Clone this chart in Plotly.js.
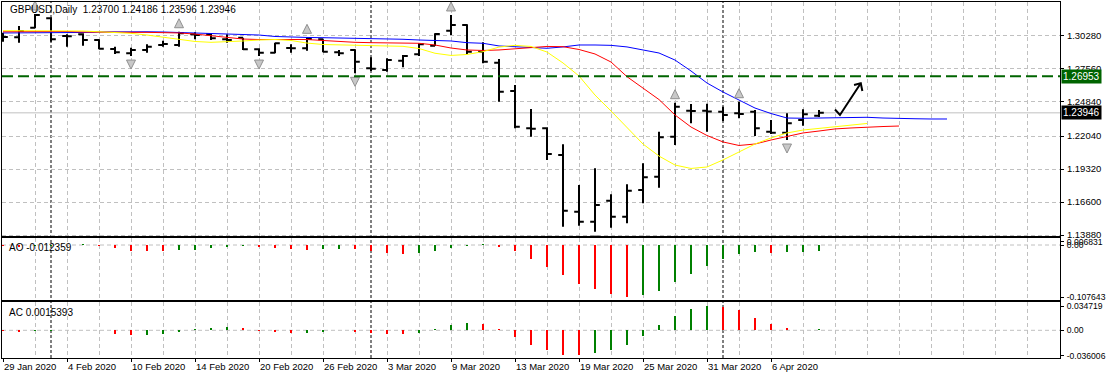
<!DOCTYPE html>
<html><head><meta charset="utf-8">
<script src="https://cdn.plot.ly/plotly-3.0.1.min.js"></script>
<style>html,body{margin:0;padding:0;background:#fff}#chart{width:1107px;height:379px}</style>
</head><body><div id="chart"></div>
<script>
// ---------- DATA ----------
const symbolName = 'GBPUSD,Daily';
const dates = ['2020-01-29','2020-01-30','2020-01-31','2020-02-03','2020-02-04','2020-02-05','2020-02-06','2020-02-07',
 '2020-02-10','2020-02-11','2020-02-12','2020-02-13','2020-02-14','2020-02-17','2020-02-18','2020-02-19','2020-02-20','2020-02-21',
 '2020-02-24','2020-02-25','2020-02-26','2020-02-27','2020-02-28','2020-03-02','2020-03-03','2020-03-04','2020-03-05','2020-03-06',
 '2020-03-09','2020-03-10','2020-03-11','2020-03-12','2020-03-13','2020-03-16','2020-03-17','2020-03-18','2020-03-19','2020-03-20',
 '2020-03-23','2020-03-24','2020-03-25','2020-03-26','2020-03-27','2020-03-30','2020-03-31','2020-04-01','2020-04-02','2020-04-03',
 '2020-04-06','2020-04-07','2020-04-08','2020-04-09'];
const xTickLabels = ['29 Jan 2020','4 Feb 2020','10 Feb 2020','14 Feb 2020','20 Feb 2020','26 Feb 2020','3 Mar 2020',
 '9 Mar 2020','13 Mar 2020','19 Mar 2020','25 Mar 2020','31 Mar 2020','6 Apr 2020'];

const openP  = [1.3013,1.3016,1.3095,1.3173,1.3027,1.3041,1.2994,1.2920,1.2885,1.2912,1.2953,1.2953,1.3041,1.3041,1.3000,1.3013,1.2918,1.2890,
 1.2928,1.2926,1.3000,1.2893,1.2912,1.2761,1.2747,1.2824,1.2876,1.2947,1.3071,1.3118,1.2898,1.2807,1.2574,1.2267,1.2267,1.2048,
 1.1581,1.1499,1.1672,1.1540,1.1760,1.1869,1.2198,1.2412,1.2412,1.2404,1.2391,1.2404,1.2239,1.2231,1.2336,1.23700];
const highP  = [1.3054,1.3109,1.3208,1.3181,1.3041,1.3049,1.3000,1.2939,1.2931,1.2959,1.2988,1.3062,1.3057,1.3049,1.3041,1.3013,1.2926,1.2972,
 1.2959,1.3016,1.3000,1.2912,1.2918,1.2852,1.2844,1.2871,1.2967,1.3049,1.3200,1.3123,1.2975,1.2838,1.2624,1.2426,1.2276,1.2136,
 1.1801,1.1938,1.1724,1.1807,1.1979,1.2239,1.2478,1.2468,1.2470,1.2445,1.2486,1.2418,1.2336,1.2391,1.2424,1.24186];
const lowP   = [1.2980,1.2972,1.3090,1.2980,1.2939,1.2947,1.2918,1.2879,1.2862,1.2890,1.2939,1.2939,1.3000,1.2994,1.2972,1.2912,1.2862,1.2885,
 1.2890,1.2906,1.2893,1.2862,1.2720,1.2739,1.2733,1.2769,1.2862,1.2945,1.3035,1.2879,1.2802,1.2486,1.2267,1.2198,1.2007,1.1458,
 1.1466,1.1416,1.1449,1.1485,1.1650,1.1778,1.2130,1.2308,1.2239,1.2327,1.2350,1.2204,1.2220,1.2171,1.2289,1.23596];
const closeP = [1.3019,1.3068,1.3200,1.3000,1.3024,1.2994,1.2922,1.2893,1.2912,1.2939,1.2961,1.3049,1.3035,1.3008,1.2994,1.2918,1.2890,1.2967,
 1.2926,1.3002,1.2898,1.2885,1.2815,1.2758,1.2829,1.2862,1.2959,1.3043,1.3118,1.2898,1.2815,1.2569,1.2281,1.2264,1.2056,1.1589,
 1.1499,1.1636,1.1540,1.1754,1.1864,1.2193,1.2445,1.2409,1.2406,1.2377,1.2385,1.2267,1.2231,1.2308,1.2383,1.23946];

// Alligator lines (already shifted forward)
const jawBlue = [1.3052,1.3052,1.3052,1.3052,1.3054,1.3056,1.3060,1.3062,1.3062,1.3062,1.3060,1.3056,1.3052,1.3049,1.3043,1.3039,1.3035,1.3023,
 1.3016,1.3015,1.3013,1.3011,1.3008,1.3008,1.3005,1.3000,1.2994,1.2990,1.2986,1.2972,1.2967,1.2945,1.2937,1.2928,1.2926,1.2937,
 1.2953,1.2953,1.2950,1.2937,1.2912,1.2887,1.2829,1.2739,1.2640,1.2566,1.2500,1.2434,1.2389,1.2352,1.2350,1.2352,1.2356,1.2358,
 1.2358,1.2352,1.2346,1.2346,1.2344,1.2344];
const teethRed = [1.3062,1.3062,1.3066,1.3068,1.3064,1.3060,1.3057,1.3057,1.3057,1.3057,1.3056,1.3052,1.3043,1.3031,1.3016,1.3002,1.2998,1.3000,
 1.3000,1.2998,1.2990,1.2980,1.2975,1.2972,1.2969,1.2967,1.2967,1.2953,1.2928,1.2912,1.2908,1.2912,1.2922,1.2936,1.2941,1.2939,
 1.2916,1.2879,1.2813,1.2692,1.2597,1.2504,1.2377,1.2278,1.2208,1.2155,1.2126,1.2138,1.2171,1.2200,1.2229,1.2245,1.2262,1.2270,
 1.2278,1.2282,1.2286];
const lipsYellow = [1.3071,1.3071,1.3071,1.3071,1.3071,1.3068,1.3062,1.3056,1.3049,1.3035,1.3019,1.2998,1.2982,1.2975,1.2978,1.2986,1.2994,1.2998,
 1.2990,1.2969,1.2957,1.2953,1.2953,1.2950,1.2947,1.2942,1.2924,1.2885,1.2867,1.2875,1.2898,1.2936,1.2950,1.2941,1.2895,1.2805,
 1.2698,1.2541,1.2410,1.2270,1.2138,1.2039,1.1965,1.1937,1.1949,1.2007,1.2072,1.2138,1.2188,1.2229,1.2253,1.2266,1.2278,1.2290,1.2307];

const aoValues = [-0.0028,-0.0035,-0.0030,-0.0020,0.0010,0.0014,-0.0028,-0.0070,-0.0115,-0.0120,-0.0133,-0.0113,-0.0099,-0.0071,-0.0049,-0.0028,
 -0.0049,-0.0071,-0.0092,-0.0095,-0.0090,-0.0088,-0.0092,-0.0127,-0.0155,-0.0176,-0.0170,-0.0134,-0.0071,-0.0010,0.0030,-0.0035,
 -0.0134,-0.0282,-0.0445,-0.0619,-0.0801,-0.0901,-0.1023,-0.107643,-0.1043,-0.0942,-0.0774,-0.0599,-0.0437,-0.0296,-0.0195,-0.0148,
 -0.0168,-0.0150,-0.0140,-0.012359];
const acValues = [-0.0012,-0.0019,-0.0015,-0.0003,0.0008,0.0010,0.0002,-0.0048,-0.0065,-0.0060,-0.0052,-0.0019,0.0014,0.0040,0.0044,0.0034,
 -0.0010,-0.0024,-0.0038,-0.0034,-0.0019,0.0005,-0.0019,-0.0038,-0.0048,-0.0050,-0.0034,0.0014,0.0072,0.0106,0.0092,0.0014,
 -0.0092,-0.0207,-0.0280,-0.0352,-0.036006,-0.0318,-0.0280,-0.0207,-0.0077,0.0072,0.0202,0.0308,0.034719,0.0337,0.0294,0.0178,
 0.0092,0.0030,0.0010,0.0015393];

const fractalUpIdx = [2, 11, 19, 28, 42, 46];
const fractalDownIdx = [8, 16, 22, 37, 49];

const priceTicks = [1.30280, 1.27560, 1.24840, 1.22040, 1.19320, 1.16600, 1.13880];
const aoTicks = [0.006831, 0, -0.107643];
const aoTickText = ['0.006831', '0.00', '-0.107643'];
const acTicks = [0.034719, 0, -0.036006];
const acTickText = ['0.034719', '0.00', '-0.036006'];

const levelPrice = 1.26953;
const bidPrice = 1.23946;

// hand-drawn check arrow object (bar index, price)
const checkArrowX = [52.0, 52.31, 53.61];
const checkArrowY = [1.2422, 1.2377, 1.2638];
const checkHeadX = [53.19, 53.61, 53.71];
const checkHeadY = [1.2624, 1.2638, 1.2574];

// ---------- DRAW ----------
const FONT = '"Liberation Sans", Arial, sans-serif';
const GRID = '#c0c0c0';
const GDASH = '4px,3px';
const FRACTAL_GAP = 0.0107;
const idx = a => a.map((_, i) => i);
const barX = idx(openP);

const colorsFrom = vals => vals.map((v, i) => (i > 0 && v > vals[i - 1]) ? '#008000' : '#ff0000');

const traces = [
  {type:'ohlc', x:barX, open:openP, high:highP, low:lowP, close:closeP, xaxis:'x', yaxis:'y',
   increasing:{line:{color:'#000000', width:2}}, decreasing:{line:{color:'#000000', width:2}},
   tickwidth:0.3, hoverinfo:'skip'},
  {type:'scatter', mode:'lines', x:idx(jawBlue), y:jawBlue, line:{color:'#0000ff', width:1}, xaxis:'x', yaxis:'y', hoverinfo:'skip'},
  {type:'scatter', mode:'lines', x:idx(teethRed), y:teethRed, line:{color:'#ff0000', width:1}, xaxis:'x', yaxis:'y', hoverinfo:'skip'},
  {type:'scatter', mode:'lines', x:idx(lipsYellow), y:lipsYellow, line:{color:'#ffff00', width:1}, xaxis:'x', yaxis:'y', hoverinfo:'skip'},
  {type:'scatter', mode:'markers', x:fractalUpIdx, y:fractalUpIdx.map(i => highP[i] + FRACTAL_GAP),
   marker:{symbol:'arrow-up', size:9, color:'#c8c8c8', line:{color:'#909090', width:1}}, xaxis:'x', yaxis:'y', hoverinfo:'skip'},
  {type:'scatter', mode:'markers', x:fractalDownIdx, y:fractalDownIdx.map(i => lowP[i] - FRACTAL_GAP),
   marker:{symbol:'arrow-down', size:9, color:'#c8c8c8', line:{color:'#909090', width:1}}, xaxis:'x', yaxis:'y', hoverinfo:'skip'},
  {type:'scatter', mode:'lines', x:checkArrowX, y:checkArrowY, line:{color:'#000000', width:2}, xaxis:'x', yaxis:'y', hoverinfo:'skip'},
  {type:'scatter', mode:'lines', x:checkHeadX, y:checkHeadY, line:{color:'#000000', width:2}, xaxis:'x', yaxis:'y', hoverinfo:'skip'},
  {type:'bar', x:idx(aoValues), y:aoValues, width:0.14, marker:{color:colorsFrom(aoValues), line:{width:0}}, xaxis:'x2', yaxis:'y2', hoverinfo:'skip'},
  {type:'bar', x:idx(acValues), y:acValues, width:0.14, marker:{color:colorsFrom(acValues), line:{width:0}}, xaxis:'x3', yaxis:'y3', hoverinfo:'skip'}
];

// month separators
const sepIdx = dates.map((d, i) => (i > 0 && d.slice(5, 7) !== dates[i - 1].slice(5, 7)) ? i : -1).filter(i => i >= 0);
const labelVals = xTickLabels.map((_, k) => k * 4);

const xBase = {
  range:[-0.0625, 66.0625], showline:true, mirror:true, linecolor:'#000', linewidth:1, zeroline:false,
  tickmode:'array', tickvals:labelVals, ticktext:xTickLabels, tickangle:0,
  showgrid:true, gridcolor:GRID, griddash:GDASH, gridwidth:1,
  minor:{tickmode:'linear', tick0:0, dtick:2, showgrid:true, gridcolor:GRID, griddash:GDASH, gridwidth:1, ticks:''},
  rangeslider:{visible:false}, fixedrange:true
};

const yBase = {side:'right', showline:true, mirror:true, linecolor:'#000', linewidth:1, zeroline:false,
  ticks:'outside', ticklen:3, tickcolor:'#000', ticklabelstandoff:1, tickfont:{family:FONT, size:9.5, color:'#000'}, fixedrange:true};

const priceLo = 1.13769, priceHi = 1.33068;

const shapes = [];
sepIdx.forEach(i => shapes.push({type:'line', xref:'x', yref:'paper', x0:i, x1:i, y0:0, y1:1,
  line:{color:'#000', width:1, dash:'3px,2px'}, layer:'between'}));
shapes.push({type:'line', xref:'paper', yref:'y2', x0:0, x1:1, y0:0, y1:0, line:{color:GRID, width:1, dash:GDASH}, layer:'between'});
shapes.push({type:'line', xref:'paper', yref:'y3', x0:0, x1:1, y0:0, y1:0, line:{color:GRID, width:1, dash:GDASH}, layer:'between'});
shapes.push({type:'line', xref:'paper', yref:'y', x0:0, x1:1, y0:bidPrice, y1:bidPrice, line:{color:'#c0c0c0', width:1}, layer:'between'});
shapes.push({type:'line', xref:'paper', yref:'y', x0:0, x1:1, y0:levelPrice, y1:levelPrice, line:{color:'#006400', width:2, dash:'11px,5px'}, layer:'above'});

const last = openP.length - 1;
const header = symbolName + '\u00a0\u00a0' + [openP[last], highP[last], lowP[last], closeP[last]].map(v => v.toFixed(5)).join(' ');

const annotations = [
  {xref:'paper', yref:'paper', x:0.0055, y:0.9785, xanchor:'left', yanchor:'middle', showarrow:false,
   text:header, font:{family:FONT, size:10, color:'#000'}},
  {xref:'paper', yref:'paper', x:0.0045, y:0.309, xanchor:'left', yanchor:'middle', showarrow:false,
   text:'AO ' + aoValues[last].toFixed(6), font:{family:FONT, size:10, color:'#000'}},
  {xref:'paper', yref:'paper', x:0.0045, y:0.129, xanchor:'left', yanchor:'middle', showarrow:false,
   text:'AC ' + acValues[last].toFixed(7), font:{family:FONT, size:10, color:'#000'}},
  {xref:'paper', yref:'y', x:1, y:levelPrice, xanchor:'left', yanchor:'middle', xshift:1, showarrow:false,
   text:levelPrice.toFixed(5), bgcolor:'#006400', borderpad:1, font:{family:FONT, size:10, color:'#ffffff'}},
  {xref:'paper', yref:'y', x:1, y:bidPrice, xanchor:'left', yanchor:'middle', xshift:1, showarrow:false,
   text:bidPrice.toFixed(5), bgcolor:'#000000', borderpad:1, font:{family:FONT, size:10, color:'#ffffff'}}
];

const layout = {
  width:1107, height:379,
  margin:{l:2, r:47, t:2, b:21, pad:0},
  paper_bgcolor:'#ffffff', plot_bgcolor:'#ffffff',
  showlegend:false, hovermode:false, dragmode:false, bargap:0,
  xaxis:Object.assign({}, xBase, {anchor:'y', showticklabels:false, ticks:''}),
  xaxis2:Object.assign({}, xBase, {anchor:'y2', matches:'x', showticklabels:false, ticks:''}),
  xaxis3:Object.assign({}, xBase, {anchor:'y3', matches:'x', showticklabels:true, ticks:'outside', ticklen:3, tickcolor:'#000',
    ticklabelposition:'outside right', tickfont:{family:FONT, size:9.5, color:'#000'}}),
  yaxis:Object.assign({}, yBase, {domain:[0.3413, 1], anchor:'x', range:[priceLo, priceHi],
    tickmode:'array', tickvals:priceTicks, ticktext:priceTicks.map(v => v.toFixed(5)),
    showgrid:true, gridcolor:GRID, griddash:GDASH, gridwidth:1}),
  yaxis2:Object.assign({}, yBase, {domain:[0.1643, 0.3357], anchor:'x2', range:[-0.1128, 0.0135],
    tickmode:'array', tickvals:aoTicks, ticktext:aoTickText, showgrid:false, tickfont:{family:FONT, size:8.6, color:'#000'}}),
  yaxis3:Object.assign({}, yBase, {domain:[0, 0.1573], anchor:'x3', range:[-0.0396, 0.0405],
    tickmode:'array', tickvals:acTicks, ticktext:acTickText, showgrid:false, tickfont:{family:FONT, size:8.6, color:'#000'}}),
  shapes:shapes, annotations:annotations
};

Plotly.newPlot('chart', traces, layout, {displayModeBar:false, staticPlot:true});
</script>
</body></html>
